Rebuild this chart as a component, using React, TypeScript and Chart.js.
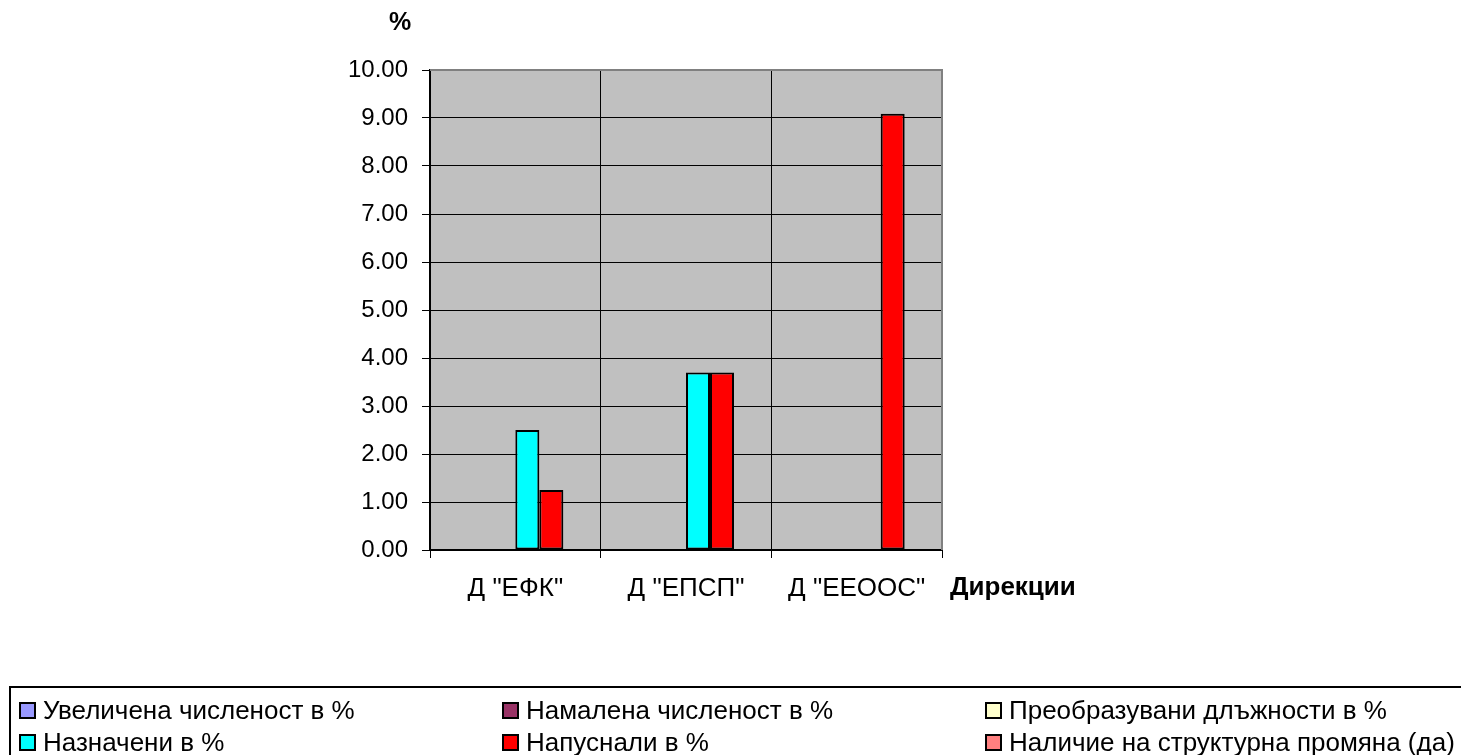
import React, { useEffect, useRef } from "react";
import { Chart, registerables } from "chart.js";

Chart.register(...registerables);

const categories = ['Д "ЕФК"', 'Д "ЕПСП"', 'Д "ЕЕООС"'];
const seriesNames = [
  "Увеличена численост в %",
  "Намалена численост в %",
  "Преобразувани длъжности в %",
  "Назначени в %",
  "Напуснали в %",
  "Наличие на структурна промяна (да)",
];
const seriesColors = ["#9999FF", "#993366", "#FFFFCC", "#00FFFF", "#FF0000", "#FF8080"];
const increased = [0, 0, 0];
const decreased = [0, 0, 0];
const transformed = [0, 0, 0];
const appointed = [2.5, 3.7, 0];
const left = [1.25, 3.7, 9.09];
const structural = [0, 0, 0];
const seriesValues = [increased, decreased, transformed, appointed, left, structural];
const yTicks = [0, 1, 2, 3, 4, 5, 6, 7, 8, 9, 10];
const yAxisTitle = "%";
const xAxisTitle = "Дирекции";

const FONT = "'Liberation Sans', Arial, sans-serif";

const plotPlugin = {
  id: "plotDecor",
  beforeDraw(chart: any) {
    const { ctx, chartArea: a } = chart;
    ctx.save();
    ctx.fillStyle = "#C0C0C0";
    ctx.fillRect(a.left, a.top, a.right - a.left, a.bottom - a.top);
    ctx.restore();
  },
  afterDraw(chart: any) {
    const { ctx, chartArea: a } = chart;
    ctx.save();
    ctx.strokeStyle = "#808080";
    ctx.lineWidth = 2;
    ctx.beginPath();
    ctx.moveTo(a.left, a.top);
    ctx.lineTo(a.right, a.top);
    ctx.lineTo(a.right, a.bottom);
    ctx.stroke();
    ctx.fillStyle = "#000";
    ctx.font = `bold 25px ${FONT}`;
    ctx.textBaseline = "middle";
    ctx.textAlign = "center";
    ctx.fillText(yAxisTitle, a.left - 30, 23);
    ctx.font = `bold 26px ${FONT}`;
    ctx.textAlign = "left";
    ctx.fillText(xAxisTitle, a.right + 8, 588);
    ctx.restore();
  },
};

export default function App() {
  const ref = useRef<HTMLCanvasElement | null>(null);
  useEffect(() => {
    if (!ref.current) return;
    Chart.defaults.font.family = FONT;
    Chart.defaults.color = "#000";
    const chart = new Chart(ref.current, {
      type: "bar",
      data: {
        labels: categories,
        datasets: seriesNames.map((name, i) => ({
          label: name,
          data: seriesValues[i].map((v) => (v === 0 ? null : v)),
          backgroundColor: seriesColors[i],
          borderColor: "#000",
          borderWidth: 2,
          borderSkipped: false,
          categoryPercentage: 0.844,
          barPercentage: 1,
        })),
      },
      options: {
        animation: false,
        responsive: true,
        maintainAspectRatio: false,
        layout: { padding: { left: 0, top: 70, right: 519, bottom: 105 } },
        plugins: { legend: { display: false }, tooltip: { enabled: false } },
        scales: {
          x: {
            afterFit: (s: any) => {
              s.height = 100;
            },
            grid: { color: "#000", lineWidth: 1, tickLength: 8, offset: true },
            border: { color: "#000", width: 2 },
            ticks: { font: { size: 26 }, padding: 15, color: "#000", maxRotation: 0 },
          },
          y: {
            min: 0,
            max: 10,
            afterFit: (s: any) => {
              s.width = 430;
            },
            afterBuildTicks: (s: any) => {
              s.ticks = yTicks.map((v) => ({ value: v }));
            },
            grid: { color: "#000", lineWidth: 1, tickLength: 8 },
            border: { color: "#000", width: 2 },
            ticks: {
              font: { size: 24 },
              padding: 14,
              color: "#000",
              callback: (v: any) => Number(v).toFixed(2),
            },
          },
        },
      },
      plugins: [plotPlugin],
    });
    return () => chart.destroy();
  }, []);

  const cols = [19, 502, 985];
  const rows = [710, 742];
  return (
    <div style={{ position: "absolute", left: 0, top: 0, width: 1461, height: 755, overflow: "hidden", background: "#fff" }}>
      <canvas ref={ref} />
      <div
        style={{
          position: "absolute",
          left: 9,
          top: 686,
          width: 1500,
          height: 120,
          border: "2px solid #000",
          boxSizing: "border-box",
        }}
      />
      {seriesNames.map((name, i) => {
        const col = i % 3;
        const row = Math.floor(i / 3);
        return (
          <div
            key={name}
            style={{
              position: "absolute",
              left: cols[col],
              top: rows[row] - 15,
              height: 30,
              display: "flex",
              alignItems: "center",
              whiteSpace: "nowrap",
              fontFamily: FONT,
              fontSize: 26,
              color: "#000",
            }}
          >
            <span
              style={{
                display: "inline-block",
                width: 13,
                height: 13,
                border: "2px solid #000",
                background: seriesColors[i],
                marginRight: 7,
              }}
            />
            <span>{name}</span>
          </div>
        );
      })}
    </div>
  );
}
